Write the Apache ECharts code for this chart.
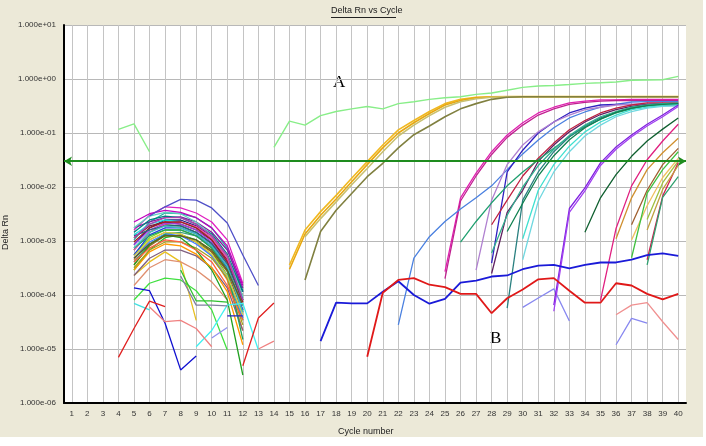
<!DOCTYPE html>
<html>
<head>
<meta charset="utf-8">
<script src="https://cdn.jsdelivr.net/npm/echarts@6/dist/echarts.min.js"></script>
<style>
  html, body { margin: 0; padding: 0; background: #fff; }
  #main { width: 703px; height: 437px; }
</style>
</head>
<body>
<div id="main"></div>
<script>
// cycle numbers (x axis categories / tick labels)
var cycles = ['1', '2', '3', '4', '5', '6', '7', '8', '9', '10',
  '11', '12', '13', '14', '15', '16', '17', '18', '19', '20',
  '21', '22', '23', '24', '25', '26', '27', '28', '29', '30',
  '31', '32', '33', '34', '35', '36', '37', '38', '39', '40'];

var threshold = 0.034;

// early noise arcs (first cycle of each, then Delta Rn per cycle)
var arcStarts = [5, 5, 5, 5, 5, 5, 5, 5, 5, 5, 5, 5, 5, 5, 5, 5, 5, 5,
  5, 5, 5, 5, 5, 5, 5, 5, 5, 5, 6, 5, 5, 5, 5, 5, 5];
var arcValues = [
  [1.6e-3, 3.0e-3, 4.3e-3, 4.1e-3, 3.3e-3, 2.25e-3, 1.05e-3, 1.65e-4],
  [1.05e-3, 2.25e-3, 3.3e-3, 3.2e-3, 2.7e-3, 1.75e-3, 7.4e-4, 1.2e-4],
  [1.75e-3, 2.25e-3, 2.7e-3, 2.8e-3, 2.25e-3, 1.45e-3, 6.8e-4, 1.35e-4],
  [8.5e-4, 1.75e-3, 2.45e-3, 2.45e-3, 1.9e-3, 1.25e-3, 5.3e-4, 1.15e-4],
  [2.9e-4, 6.8e-4, 1.15e-3, 1.3e-3, 1.05e-3, 6.3e-4, 2.3e-4, 3.4e-5],
  [4.5e-4, 1.05e-3, 1.45e-3, 1.35e-3, 9.6e-4, 5.3e-4, 1.9e-4, 2.2e-5],
  [2.3e-4, 4.1e-4, 6.3e-4, 4.1e-4, 3.4e-5],
  [8.1e-5, 1.65e-4, 2.05e-4, 1.9e-4, 1.2e-4, 5.3e-5, 9.6e-6],
  [6.8e-4, 1.45e-3, 2.0e-3, 1.9e-3, 1.45e-3, 9.2e-4, 4.1e-4, 8.1e-5],
  [5.5e-4, 1.15e-3, 1.6e-3, 1.6e-3, 1.25e-3, 7.4e-4, 3.2e-4, 5.3e-5],
  [1.3e-3, 2.05e-3, 2.45e-3, 2.25e-3, 1.75e-3, 1.15e-3, 4.8e-4, 8.8e-5],
  [1.15e-3, 1.9e-3, 2.25e-3, 2.05e-3, 1.6e-3, 1.05e-3, 4.5e-4, 9.6e-5],
  [1.45e-3, 2.45e-3, 2.9e-3, 2.7e-3, 2.05e-3, 1.35e-3, 5.7e-4, 1.15e-4],
  [6.8e-4, 1.45e-3, 2.05e-3, 2.25e-3, 1.85e-3, 1.15e-3, 4.8e-4, 6.5e-5],
  [3.6e-4, 8.1e-4, 1.25e-3, 1.25e-3, 9.6e-4, 6.3e-4, 2.7e-4, 4.8e-5],
  [8.5e-4, 1.6e-3, 2.15e-3, 2.05e-3, 1.6e-3, 9.6e-4, 4.1e-4, 8.1e-5],
  [4.1e-4, 8.8e-4, 1.35e-3, 1.45e-3, 1.25e-3, 8.1e-4, 3.4e-4, 6.3e-5],
  [3.2e-4, 6.8e-4, 9.6e-4, 9.6e-4, 7.4e-4, 4.8e-4, 2.05e-4, 2.8e-5],
  [4.8e-4, 9.6e-4, 1.35e-3, 1.25e-3, 8.8e-4, 5.3e-4, 2.25e-4, 3.75e-5],
  [9.6e-4, 1.75e-3, 2.25e-3, 2.25e-3, 1.75e-3, 1.05e-3, 4.1e-4, 7.4e-5],
  [2.3e-4, 4.8e-4, 6.8e-4, 6.8e-4, 5.3e-4, 3.2e-4, 1.35e-4, 2.2e-5],
  [1.5e-4, 3.2e-4, 4.5e-4, 4.1e-4, 2.9e-4, 1.75e-4, 8.1e-5],
  [5.5e-4, 1.3e-3, 1.75e-3, 1.75e-3, 1.35e-3, 8.1e-4, 3.2e-4, 5.3e-5],
  [7.4e-4, 1.25e-3, 1.6e-3, 1.6e-3, 1.25e-3, 7.4e-4, 2.9e-4, 1.5e-5],
  [1.75e-3, 2.9e-3, 3.4e-3, 3.2e-3, 2.25e-3, 1.25e-3, 5.3e-4, 9.6e-5],
  [3.6e-4, 8.5e-4, 1.3e-3, 1.15e-3, 6.8e-4, 2.9e-4, 8.1e-5, 3.3e-6],
  [2.25e-3, 3.2e-3, 3.7e-3, 3.4e-3, 2.7e-3, 1.75e-3, 8.1e-4, 1.5e-4],
  [2.9e-4, 6.3e-4, 8.8e-4, 8.1e-4, 5.7e-4, 3.2e-4, 1.15e-4, 1.2e-5],
  [2.9e-3, 4.3e-3, 5.9e-3, 5.7e-3, 4.1e-3, 2.15e-3, 5.5e-4, 1.5e-4],
  [1.25e-3, 1.6e-3, 1.9e-3, 1.9e-3, 1.45e-3, 8.8e-4, 3.75e-4, 8.1e-5],
  [4.1e-4, 7.4e-4, 1.05e-3, 9.6e-4, 6.8e-4, 4.1e-4, 1.5e-4, 3.4e-5],
  [5.3e-4, 1.05e-3, 1.45e-3, 1.35e-3, 9.6e-4, 5.7e-4, 2.25e-4, 4.3e-5],
  [1.15e-3, 2.05e-3, 2.7e-3, 2.7e-3, 2.05e-3, 1.25e-3, 5.3e-4, 8.1e-5],
  [7.4e-4, 1.45e-3, 1.9e-3, 1.75e-3, 1.35e-3, 8.1e-4, 3.4e-4, 4.8e-5],
  [4.8e-4, 8.8e-4, 1.25e-3, 1.25e-3, 1.05e-3, 6.8e-4, 2.9e-4, 6.5e-5]
];

// short low-level fragments
var bitStarts = [5, 5, 9, 10, 11, 8, 8, 4, 12, 6, 13, 30, 36, 36];
var bitValues = [
  [1.35e-4, 1.2e-4, 3.0e-5, 4.1e-6, 7.4e-6],
  [7.0e-5, 5.3e-5],
  [1.1e-5, 2.2e-5, 6.5e-5, 7.0e-5, 9.6e-6],
  [1.6e-5, 2.5e-5],
  [4.1e-5, 4.1e-5],
  [2.9e-4, 7.8e-5, 7.8e-5, 7.4e-5],
  [2.25e-4, 6.5e-5, 6.5e-5, 6.3e-5],
  [7.0e-6, 2.4e-5, 7.7e-5, 6.1e-5],
  [4.9e-6, 3.75e-5, 7.1e-5],
  [6.0e-5, 3.2e-5, 3.4e-5, 2.4e-5, 1.1e-5],
  [1.0e-5, 1.4e-5],
  [5.9e-5, 8.8e-5, 1.3e-4, 3.3e-5],
  [4.3e-5, 6.5e-5, 7.2e-5, 3.2e-5, 1.5e-5],
  [1.2e-5, 3.7e-5, 3.0e-5]
];

// light green reference trace (two pieces)
var refStarts = [4, 14];
var refValues = [
  [0.117, 0.148, 0.045],
  [0.054, 0.166, 0.14, 0.21, 0.25, 0.28, 0.31, 0.28, 0.35, 0.38, 0.42, 0.45,
    0.47, 0.52, 0.55, 0.62, 0.70, 0.74, 0.76, 0.79, 0.83, 0.85, 0.88, 0.95,
    0.96, 0.97, 1.12]
];

// curve group A (early Ct)
var aStarts = [15, 15, 16, 16];
var aValues = [
  [3.6e-4, 1.6e-3, 3.5e-3, 7.0e-3, 0.0145, 0.0295, 0.06, 0.114, 0.17, 0.25, 0.35,
    0.42, 0.46, 0.47, 0.475, 0.475, 0.475, 0.475, 0.475, 0.475, 0.475, 0.475,
    0.475, 0.475, 0.475, 0.475],
  [3.0e-4, 1.35e-3, 3.0e-3, 6.0e-3, 0.0125, 0.026, 0.053, 0.10, 0.155, 0.23, 0.33,
    0.40, 0.45, 0.465, 0.47, 0.47, 0.47, 0.47, 0.47, 0.47, 0.47, 0.47, 0.47,
    0.47, 0.47, 0.47],
  [1.2e-3, 2.6e-3, 5.3e-3, 0.011, 0.022, 0.045, 0.088, 0.14, 0.21, 0.30, 0.38,
    0.43, 0.46, 0.47, 0.47, 0.47, 0.47, 0.47, 0.47, 0.47, 0.47, 0.47, 0.47,
    0.47, 0.47],
  [1.9e-4, 1.5e-3, 3.7e-3, 7.6e-3, 0.0155, 0.0275, 0.053, 0.093, 0.135, 0.20,
    0.28, 0.35, 0.42, 0.46, 0.47, 0.47, 0.47, 0.47, 0.47, 0.47, 0.47, 0.47,
    0.47, 0.47, 0.47]
];

// late amplification curves
var lateStarts = [25, 25, 22, 28, 27, 28, 28, 26, 29, 30, 30, 28, 29, 32, 32,
  34, 35, 36, 37, 37, 37, 38, 38, 38, 38];
var lateValues = [
  [2.7e-4, 6.3e-3, 0.018, 0.045, 0.092, 0.155, 0.235, 0.30, 0.36, 0.39, 0.41, 0.41, 0.42, 0.42, 0.42, 0.42],
  [2.0e-4, 5.5e-3, 0.016, 0.04, 0.083, 0.14, 0.215, 0.28, 0.34, 0.37, 0.39, 0.40, 0.40, 0.40, 0.40, 0.40],
  [2.8e-5, 4.8e-4, 1.2e-3, 2.3e-3, 3.9e-3, 6.3e-3, 0.0105, 0.021, 0.041, 0.074, 0.125, 0.19, 0.245, 0.30, 0.34, 0.375, 0.38, 0.38, 0.38],
  [3.9e-4, 0.019, 0.048, 0.10, 0.16, 0.235, 0.29, 0.33, 0.34, 0.34, 0.34, 0.34, 0.34],
  [2.9e-4, 5.7e-3, 0.026, 0.06, 0.105, 0.16, 0.215, 0.27, 0.30, 0.33, 0.34, 0.34, 0.34, 0.34],
  [2.0e-3, 5.7e-3, 0.016, 0.034, 0.065, 0.115, 0.17, 0.235, 0.29, 0.33, 0.36, 0.36, 0.36],
  [2.5e-4, 3.4e-3, 8.7e-3, 0.03, 0.06, 0.105, 0.16, 0.22, 0.27, 0.31, 0.34, 0.35, 0.35],
  [9.5e-4, 2.3e-3, 5.1e-3, 0.0105, 0.019, 0.032, 0.052, 0.085, 0.13, 0.18, 0.235, 0.28, 0.32, 0.33, 0.34],
  [5.7e-5, 5.7e-3, 0.019, 0.045, 0.085, 0.135, 0.19, 0.245, 0.29, 0.32, 0.32, 0.32],
  [1.1e-3, 8.7e-3, 0.026, 0.057, 0.105, 0.16, 0.215, 0.27, 0.30, 0.33, 0.34],
  [4.5e-4, 5.5e-3, 0.019, 0.045, 0.088, 0.14, 0.20, 0.25, 0.29, 0.31, 0.32],
  [6.0e-4, 3.0e-3, 0.01, 0.025, 0.05, 0.09, 0.14, 0.20, 0.25, 0.30, 0.33, 0.35, 0.36],
  [1.5e-3, 5.0e-3, 0.016, 0.038, 0.075, 0.125, 0.18, 0.24, 0.29, 0.32, 0.34, 0.35],
  [6.5e-5, 4.0e-3, 9.6e-3, 0.028, 0.055, 0.092, 0.145, 0.215, 0.33],
  [5.0e-5, 3.4e-3, 8.5e-3, 0.025, 0.05, 0.085, 0.135, 0.20, 0.31],
  [1.45e-3, 6.3e-3, 0.017, 0.037, 0.071, 0.118, 0.19],
  [7.9e-5, 1.7e-3, 0.0105, 0.032, 0.071, 0.145],
  [1.1e-3, 6.3e-3, 0.021, 0.043, 0.08],
  [2.0e-3, 8.7e-3, 0.026, 0.052],
  [1.05e-3, 4.5e-3, 0.015, 0.034],
  [4.9e-4, 7.7e-3, 0.021, 0.045],
  [2.5e-3, 0.012, 0.03],
  [4.5e-4, 6.8e-3, 0.028],
  [3.6e-4, 6.4e-3, 0.0155],
  [1.6e-3, 9.0e-3, 0.025]
];

// group B (flat, no amplification)
var bStarts = [17, 20];
var bValues = [
  [1.4e-5, 7.2e-5, 7.0e-5, 7.0e-5, 1.15e-4, 1.8e-4, 1.0e-4, 6.9e-5, 8.5e-5, 1.7e-4,
    1.85e-4, 2.2e-4, 2.3e-4, 3.0e-4, 3.5e-4, 3.6e-4, 3.1e-4, 3.6e-4, 4.0e-4, 4.0e-4,
    4.5e-4, 5.5e-4, 5.9e-4, 5.3e-4],
  [7.2e-6, 1.1e-4, 1.9e-4, 2.05e-4, 1.55e-4, 1.4e-4, 1.05e-4, 1.05e-4, 4.6e-5, 8.7e-5,
    1.26e-4, 1.95e-4, 2.05e-4, 1.2e-4, 7.2e-5, 7.2e-5, 1.65e-4, 1.5e-4, 1.05e-4, 8.3e-5,
    1.05e-4]
];

// ---- styles ----
var arcColors = ['#e020c0', '#20b0a0', '#8020a0', '#202080', '#20c020', '#f08020', '#e8c020',
  '#40e040', '#008040', '#80e020', '#20e0e0', '#802040', '#008080', '#ff40a0', '#a06020',
  '#a040e0', '#40a080', '#a0a020', '#4080ff', '#a02020', '#806080', '#e09070', '#2040e0',
  '#20a060', '#60d0c0', '#20a020', '#c000c0', '#ff9900', '#5050c8', '#306080', '#ff6040',
  '#d0d040', '#b040b0', '#40c0c0', '#606020'];
var bitColors = ['#1010d0', '#40e0e0', '#40f0f0', '#9090f0', '#2020c0', '#30c030', '#8080a0',
  '#e02020', '#e02020', '#f08080', '#f08080', '#8888f0', '#f09090', '#8888f0'];
var aColors = ['#f0b820', '#e8a810', '#c8c070', '#808040'];
var lateColors = ['#e020b0', '#c02090', '#4a80e0', '#3020c0', '#b080d0', '#c02040', '#602060',
  '#20a070', '#2a8080', '#40e0d0', '#70d8e0', '#30b090', '#108050', '#8020e0', '#a040f0',
  '#106030', '#e02080', '#d09030', '#a06030', '#f0c060', '#40c040', '#a0c040', '#d02050',
  '#30a070', '#c0a040'];
var bColors = ['#1a1ad8', '#e01818'];

var series = [];
function addLines(starts, values, colors, width) {
  values.forEach(function (vals, k) {
    series.push({
      type: 'line',
      data: vals.map(function (v, i) { return [cycles[starts[k] - 1 + i], v]; }),
      symbol: 'none',
      showSymbol: false,
      silent: true,
      animation: false,
      lineStyle: { color: colors[k], width: width }
    });
  });
}
addLines(arcStarts, arcValues, arcColors, 1.3);
addLines(bitStarts, bitValues, bitColors, 1.3);
addLines(lateStarts, lateValues, lateColors, 1.3);
addLines(refStarts, refValues, ['#88ee88', '#88ee88'], 1.4);
addLines(aStarts, aValues, aColors, 1.6);
addLines(bStarts, bValues, bColors, 1.8);

// threshold line
series.push({
  type: 'line',
  data: [],
  z: 5,
  silent: true,
  animation: false,
  markLine: {
    silent: true,
    animation: false,
    symbol: ['arrow', 'arrow'],
    symbolSize: [7, 8],
    label: { show: false },
    lineStyle: { color: '#1e8c1e', width: 2, type: 'solid' },
    data: [{ yAxis: threshold }]
  }
});

var myChart = echarts.init(document.getElementById('main'));
var option = {
  backgroundColor: '#ece9d8',
  animation: false,
  grid: {
    left: 64, top: 25, width: 622, height: 378,
    show: true, backgroundColor: '#ffffff', borderWidth: 0
  },
  xAxis: {
    type: 'category',
    data: cycles,
    boundaryGap: true,
    axisLine: { lineStyle: { color: '#000', width: 2 } },
    axisTick: { show: false, alignWithLabel: true },
    splitLine: { show: true, alignWithLabel: true, lineStyle: { color: '#c4c4c4', width: 1 } },
    axisLabel: { interval: 0, color: '#333', fontSize: 8, margin: 7, fontFamily: 'Liberation Sans' }
  },
  yAxis: {
    type: 'log',
    logBase: 10,
    min: 1e-6,
    max: 10,
    axisLine: { show: true, lineStyle: { color: '#000', width: 2 } },
    axisTick: { show: false },
    splitLine: { show: true, lineStyle: { color: '#b8b8b8', width: 1 } },
    axisLabel: {
      color: '#333', fontSize: 8, margin: 8, fontFamily: 'Liberation Sans',
      formatter: function (v) {
        return v.toExponential(3).replace(/e([+-])(\d)$/, 'e$10$2');
      }
    }
  },
  graphic: [
    { type: 'text', left: 331, top: 6, style: { text: 'Delta Rn vs Cycle', fontSize: 9, fontFamily: 'Liberation Sans', fill: '#222' } },
    { type: 'line', shape: { x1: 331, y1: 17.5, x2: 396, y2: 17.5 }, style: { stroke: '#222', lineWidth: 1 } },
    { type: 'text', left: 338, top: 427, style: { text: 'Cycle number', fontSize: 9, fontFamily: 'Liberation Sans', fill: '#222' } },
    { type: 'text', x: 1, y: 250, rotation: Math.PI / 2, style: { text: 'Delta Rn', fontSize: 9, fontFamily: 'Liberation Sans', fill: '#222' } },
    { type: 'text', left: 333, top: 74, style: { text: 'A', fontSize: 17, fontFamily: 'Liberation Serif', fill: '#000' } },
    { type: 'text', left: 490, top: 330, style: { text: 'B', fontSize: 17, fontFamily: 'Liberation Serif', fill: '#000' } }
  ],
  series: series
};
myChart.setOption(option);
</script>
</body>
</html>
